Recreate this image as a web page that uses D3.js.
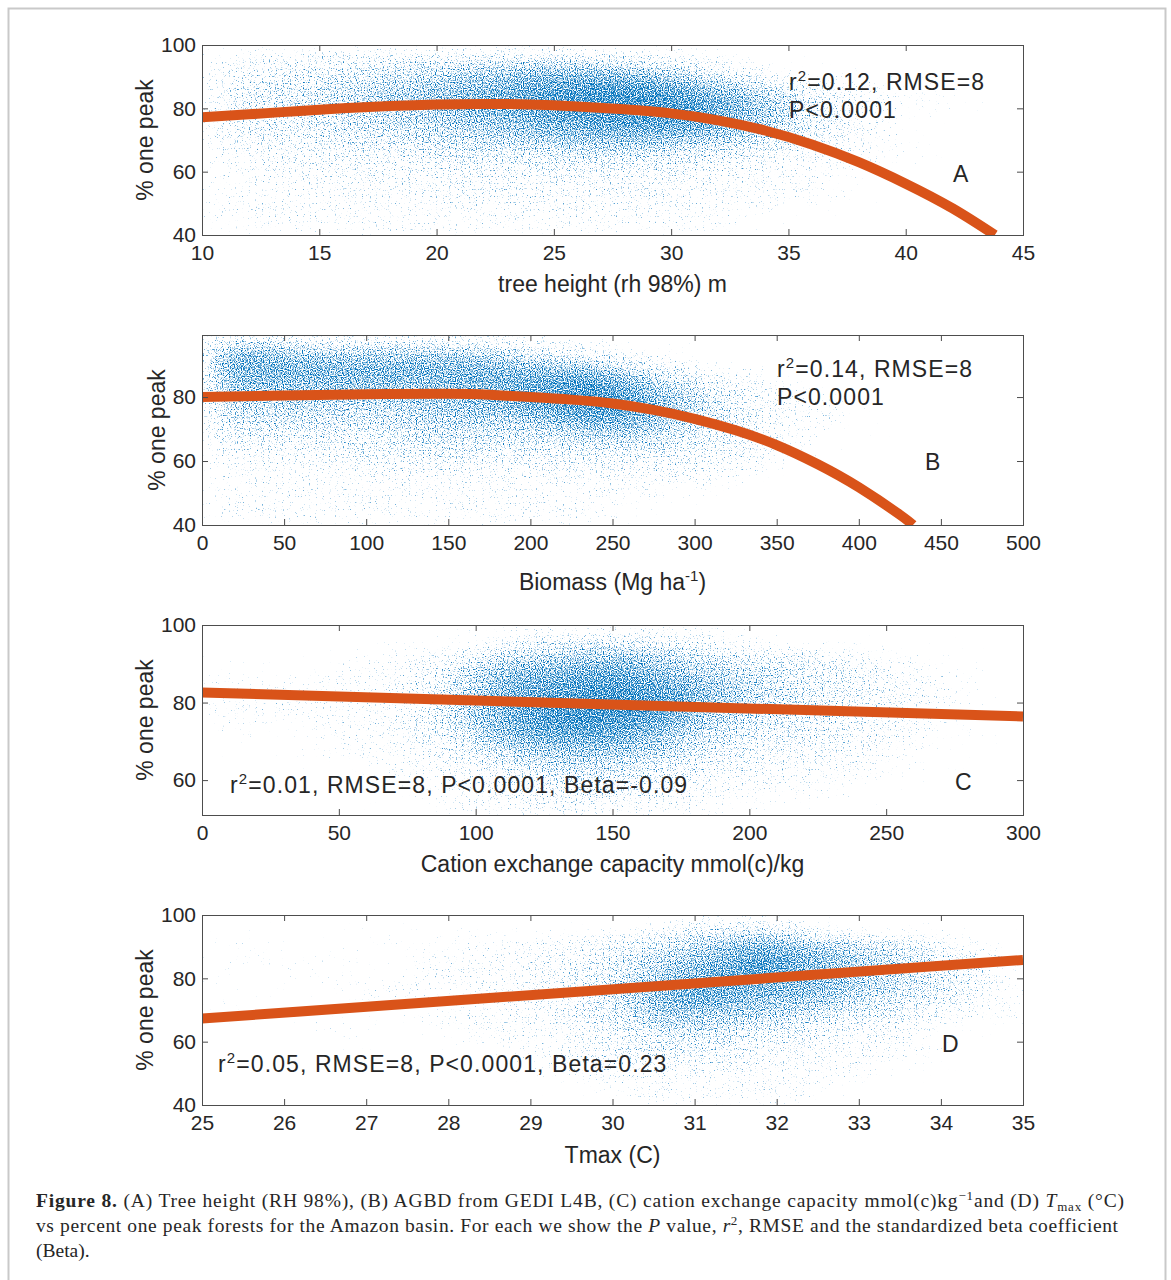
<!DOCTYPE html>
<html>
<head>
<meta charset="utf-8">
<script src="https://cdn.jsdelivr.net/npm/d3@7"></script>
<style>
  body { margin: 0; background: #fff; }
  text { font-family: "Liberation Sans", Arial, sans-serif; fill: #262626; }
</style>
</head>
<body>
<svg id="fig"></svg>
<script>
// ---- data ----
// tick labels
const heightTicks = [10, 15, 20, 25, 30, 35, 40, 45];
const biomassTicks = [0, 50, 100, 150, 200, 250, 300, 350, 400, 450, 500];
const cecTicks = [0, 50, 100, 150, 200, 250, 300];
const tmaxTicks = [25, 26, 27, 28, 29, 30, 31, 32, 33, 34, 35];
const peakTicksA = [40, 60, 80, 100];
const peakTicksB = [40, 60, 80];
const peakTicksC = [60, 80, 100];
const peakTicksD = [40, 60, 80, 100];

// fitted curves (x, % one peak)
const heightFitX = [10, 12, 14, 16, 18, 20, 22, 24, 26, 28, 30, 32, 34, 36, 38, 40, 42, 43.8];
const heightFitY = [77.2, 78.1, 79.1, 80.0, 80.7, 81.2, 81.4, 81.2, 80.6, 79.7, 78.4, 76.2, 73.0, 68.6, 63.0, 56.2, 48.4, 40];
const biomassFitX = [0, 50, 100, 150, 175, 200, 225, 250, 275, 300, 325, 350, 375, 400, 425, 433];
const biomassFitY = [80, 80.5, 80.9, 81, 80.7, 80, 79.2, 78.0, 76.0, 73.2, 69.6, 65, 59, 51.8, 43.2, 40];
const cecFitX = [0, 300];
const cecFitY = [82.6, 76.4];
const tmaxFitX = [25, 35];
const tmaxFitY = [67.3, 85.8];

// point density of the scatter, 0-9, one string per row (top row first)
// tree height: columns of 2.5 m from 10, rows of 5 % from 100
const heightDensity = [
  "11222221100000",
  "23345665310000",
  "33456788642100",
  "34567899863110",
  "33456789863100",
  "33445677753100",
  "22334455432100",
  "12223333321100",
  "11222222211000",
  "11112222111000",
  "11111111110000",
  "11111111100000"
];
// biomass: columns of 25 Mg/ha from 0, rows of 5 % from 100
const biomassDensity = [
  "44333332110000000000",
  "77666665432100000000",
  "77777777775321000000",
  "66666677897532100000",
  "55555667898642110000",
  "44444555677542110000",
  "33333444455432100000",
  "22233333333322100000",
  "11112222222221000000",
  "11111111111110000000",
  "11111111111000000000",
  "11111111110000000000"
];
// CEC: columns of 20 from 0, rows of 5 % from 100
const cecDensity = [
  "000001222100000",
  "000124565332100",
  "101137786543210",
  "111147898643210",
  "111147998543210",
  "101137886433210",
  "001125665322100",
  "000113443221100",
  "000012332111000",
  "000011221100000"
];
// Tmax: columns of 0.5 C from 25, rows of 5 % from 100
const tmaxDensity = [
  "00000000000122100000",
  "10001011123456543210",
  "01010111224568765421",
  "10100111234679765431",
  "00011111235787765431",
  "10001011235776654321",
  "00100111234655433211",
  "00010011123443322100",
  "00000001123332211100",
  "00000000112222111000",
  "00000000011111110000",
  "00000000001111100000"
];

// ---- layout ----
const W = 1171, H = 1280;
const plotLeft = 202, plotRight = 1023;
const blue = "#0072BD", orange = "#D95319";

const panels = [
  { key: "A", xDomain: [10, 45], yDomain: [40, 100], top: 45, bottom: 235,
    xTicks: heightTicks, yTicks: peakTicksA, fitX: heightFitX, fitY: heightFitY,
    grid: heightDensity, gx0: 10, gdx: 2.5, gy0: 100, gdy: 5,
    xLabel: "tree height (rh 98%) m", xLabelY: 292, yLabelX: 145,
    stats: [["0.12", "RMSE=8"], "P<0.0001"], statsX: 789, statsY: [90, 118],
    tagX: 953, tagY: 182 },
  { key: "B", xDomain: [0, 500], yDomain: [40, 99.4], top: 335, bottom: 525,
    xTicks: biomassTicks, yTicks: peakTicksB, fitX: biomassFitX, fitY: biomassFitY,
    grid: biomassDensity, gx0: 0, gdx: 25, gy0: 100, gdy: 5,
    xLabel: null, xLabelY: 590, yLabelX: 157,
    stats: [["0.14", "RMSE=8"], "P<0.0001"], statsX: 777, statsY: [377, 405],
    tagX: 925, tagY: 470 },
  { key: "C", xDomain: [0, 300], yDomain: [51, 100], top: 625, bottom: 815,
    xTicks: cecTicks, yTicks: peakTicksC, fitX: cecFitX, fitY: cecFitY,
    grid: cecDensity, gx0: 0, gdx: 20, gy0: 100, gdy: 5,
    xLabel: "Cation exchange capacity mmol(c)/kg", xLabelY: 872, yLabelX: 145,
    stats: [["0.01", "RMSE=8, P<0.0001, Beta=-0.09"]], statsX: 230, statsY: [793],
    tagX: 955, tagY: 790 },
  { key: "D", xDomain: [25, 35], yDomain: [40, 100], top: 915, bottom: 1105,
    xTicks: tmaxTicks, yTicks: peakTicksD, fitX: tmaxFitX, fitY: tmaxFitY,
    grid: tmaxDensity, gx0: 25, gdx: 0.5, gy0: 100, gdy: 5,
    xLabel: "Tmax (C)", xLabelY: 1163, yLabelX: 145,
    stats: [["0.05", "RMSE=8, P<0.0001, Beta=0.23"]], statsX: 218, statsY: [1072],
    tagX: 942, tagY: 1052 }
];

const svg = d3.select("#fig").attr("width", W).attr("height", H);
svg.append("rect").attr("width", W).attr("height", H).attr("fill", "#fff");
const defs = svg.append("defs");

// page frame
svg.append("path")
  .attr("d", `M8.5,${H} V8.5 H1165.5 V${H}`)
  .attr("fill", "none").attr("stroke", "#c9c9c9").attr("stroke-width", 2);

panels.forEach(p => {
  const x = d3.scaleLinear().domain(p.xDomain).range([plotLeft, plotRight]);
  const y = d3.scaleLinear().domain(p.yDomain).range([p.bottom, p.top]);

  defs.append("clipPath").attr("id", "clip-" + p.key)
    .append("rect")
    .attr("x", plotLeft).attr("y", p.top)
    .attr("width", plotRight - plotLeft).attr("height", p.bottom - p.top);

  // speckle filter: blurred density -> thresholded noise -> blue dots
  const cw = x(p.gx0 + p.gdx) - x(p.gx0);
  const ch = y(p.yDomain[0]) - y(p.yDomain[0] + p.gdy);
  const f = defs.append("filter").attr("id", "speckle-" + p.key)
    .attr("x", "-5%").attr("y", "-5%").attr("width", "110%").attr("height", "110%")
    .attr("color-interpolation-filters", "sRGB");
  f.append("feGaussianBlur").attr("in", "SourceAlpha")
    .attr("stdDeviation", `${(cw * 0.5).toFixed(1)} ${(ch * 0.5).toFixed(1)}`)
    .attr("result", "ba");
  f.append("feTurbulence").attr("type", "fractalNoise").attr("baseFrequency", 0.85)
    .attr("numOctaves", 1).attr("seed", 4).attr("result", "tn");
  f.append("feColorMatrix").attr("in", "tn").attr("type", "matrix")
    .attr("values", "0 0 0 0 0  0 0 0 0 0  0 0 0 0 0  1.8 0 0 0 -0.4").attr("result", "n");
  f.append("feComposite").attr("in", "ba").attr("in2", "n").attr("operator", "arithmetic")
    .attr("k1", 0).attr("k2", 1).attr("k3", 1).attr("k4", -1).attr("result", "s");
  const ct = f.append("feComponentTransfer").attr("in", "s").attr("result", "m");
  ct.append("feFuncA").attr("type", "linear").attr("slope", 2.6).attr("intercept", 0);
  f.append("feFlood").attr("flood-color", blue).attr("result", "col");
  f.append("feComposite").attr("in", "col").attr("in2", "m").attr("operator", "in");

  const cells = [];
  p.grid.forEach((row, r) => {
    row.split("").forEach((c, i) => {
      const d = +c;
      if (d > 0) cells.push({
        x0: p.gx0 + i * p.gdx, x1: p.gx0 + (i + 1) * p.gdx,
        y1: p.gy0 - r * p.gdy, y0: p.gy0 - (r + 1) * p.gdy, d: d
      });
    });
  });

  const plot = svg.append("g").attr("clip-path", `url(#clip-${p.key})`);
  plot.append("g").attr("filter", `url(#speckle-${p.key})`)
    .selectAll("rect").data(cells).join("rect")
      .attr("x", d => x(d.x0))
      .attr("width", d => x(d.x1) - x(d.x0) + 0.5)
      .attr("y", d => y(d.y1))
      .attr("height", d => y(d.y0) - y(d.y1) + 0.5)
      .attr("fill", "#000")
      .attr("fill-opacity", d => 0.14 + d.d / 9 * 0.66);

  // fitted curve
  const fit = p.fitX.map((v, i) => [v, p.fitY[i]]);
  plot.append("path")
    .datum(fit)
    .attr("d", d3.line().x(d => x(d[0])).y(d => y(d[1])).curve(d3.curveNatural))
    .attr("fill", "none")
    .attr("stroke", orange)
    .attr("stroke-width", 10);

  // axes, ticks inside on all four sides
  const styleAxis = g => {
    g.select(".domain").remove();
    g.selectAll(".tick line").attr("stroke", "#4d4d4d");
    g.selectAll(".tick text").attr("fill", "#262626")
      .style("font-size", "21px").style("font-family", '"Liberation Sans", Arial, sans-serif');
  };
  svg.append("g").attr("transform", `translate(0,${p.bottom})`)
    .call(d3.axisBottom(x).tickValues(p.xTicks).tickSizeInner(-6).tickSizeOuter(0).tickPadding(10))
    .call(styleAxis);
  svg.append("g").attr("transform", `translate(0,${p.top})`)
    .call(d3.axisTop(x).tickValues(p.xTicks).tickSizeInner(-6).tickSizeOuter(0).tickFormat(() => ""))
    .call(styleAxis);
  svg.append("g").attr("transform", `translate(${plotLeft},0)`)
    .call(d3.axisLeft(y).tickValues(p.yTicks).tickSizeInner(-6).tickSizeOuter(0).tickPadding(6))
    .call(styleAxis);
  svg.append("g").attr("transform", `translate(${plotRight},0)`)
    .call(d3.axisRight(y).tickValues(p.yTicks).tickSizeInner(-6).tickSizeOuter(0).tickFormat(() => ""))
    .call(styleAxis);

  svg.append("rect")
    .attr("x", plotLeft + 0.5).attr("y", p.top + 0.5)
    .attr("width", plotRight - plotLeft).attr("height", p.bottom - p.top)
    .attr("fill", "none").attr("stroke", "#4d4d4d").attr("stroke-width", 1);

  // axis labels
  svg.append("text")
    .attr("transform", `translate(${p.yLabelX},${(p.top + p.bottom) / 2}) rotate(-90)`)
    .attr("text-anchor", "middle").attr("dominant-baseline", "central")
    .style("font-size", "23px")
    .text("% one peak");

  const xl = svg.append("text")
    .attr("x", (plotLeft + plotRight) / 2).attr("y", p.xLabelY)
    .attr("text-anchor", "middle").style("font-size", "23px");
  if (p.xLabel) {
    xl.text(p.xLabel);
  } else {
    xl.append("tspan").text("Biomass (Mg ha");
    xl.append("tspan").attr("dy", -9).style("font-size", "15px").text("-1");
    xl.append("tspan").attr("dy", 9).text(")");
  }

  // statistics text
  p.stats.forEach((s, i) => {
    const t = svg.append("text")
      .attr("x", p.statsX).attr("y", p.statsY[i])
      .style("font-size", "23px").style("letter-spacing", "1.1px");
    if (Array.isArray(s)) {
      t.append("tspan").text("r");
      t.append("tspan").attr("dy", -9).style("font-size", "15px").text("2");
      t.append("tspan").attr("dy", 9).text(`=${s[0]}, ${s[1]}`);
    } else {
      t.text(s);
    }
  });
  svg.append("text").attr("x", p.tagX).attr("y", p.tagY)
    .style("font-size", "23px").text(p.key);
});

// ---- caption ----
const serif = '"Liberation Serif", "Times New Roman", serif';
const cap1 = svg.append("text").attr("x", 36).attr("y", 1207)
  .attr("textLength", 1088).attr("lengthAdjust", "spacing")
  .style("font-family", serif).style("font-size", "19.5px");
cap1.append("tspan").style("font-weight", "bold").text("Figure 8.");
cap1.append("tspan").text(" (A) Tree height (RH 98%), (B) AGBD from GEDI L4B, (C) cation exchange capacity mmol(c)kg");
cap1.append("tspan").attr("dy", -7).style("font-size", "13px").text("\u22121");
cap1.append("tspan").attr("dy", 7).text("and (D) ");
cap1.append("tspan").style("font-style", "italic").text("T");
cap1.append("tspan").attr("dy", 4).style("font-size", "13px").text("max");
cap1.append("tspan").attr("dy", -4).text(" (\u00B0C)");

const cap2 = svg.append("text").attr("x", 36).attr("y", 1232)
  .attr("textLength", 1082).attr("lengthAdjust", "spacing")
  .style("font-family", serif).style("font-size", "19.5px");
cap2.append("tspan").text("vs percent one peak forests for the Amazon basin. For each we show the ");
cap2.append("tspan").style("font-style", "italic").text("P");
cap2.append("tspan").text(" value, ");
cap2.append("tspan").style("font-style", "italic").text("r");
cap2.append("tspan").attr("dy", -7).style("font-size", "13px").text("2");
cap2.append("tspan").attr("dy", 7).text(", RMSE and the standardized beta coefficient");

svg.append("text").attr("x", 36).attr("y", 1257)
  .style("font-family", serif).style("font-size", "19.5px")
  .text("(Beta).");
</script>
</body>
</html>
